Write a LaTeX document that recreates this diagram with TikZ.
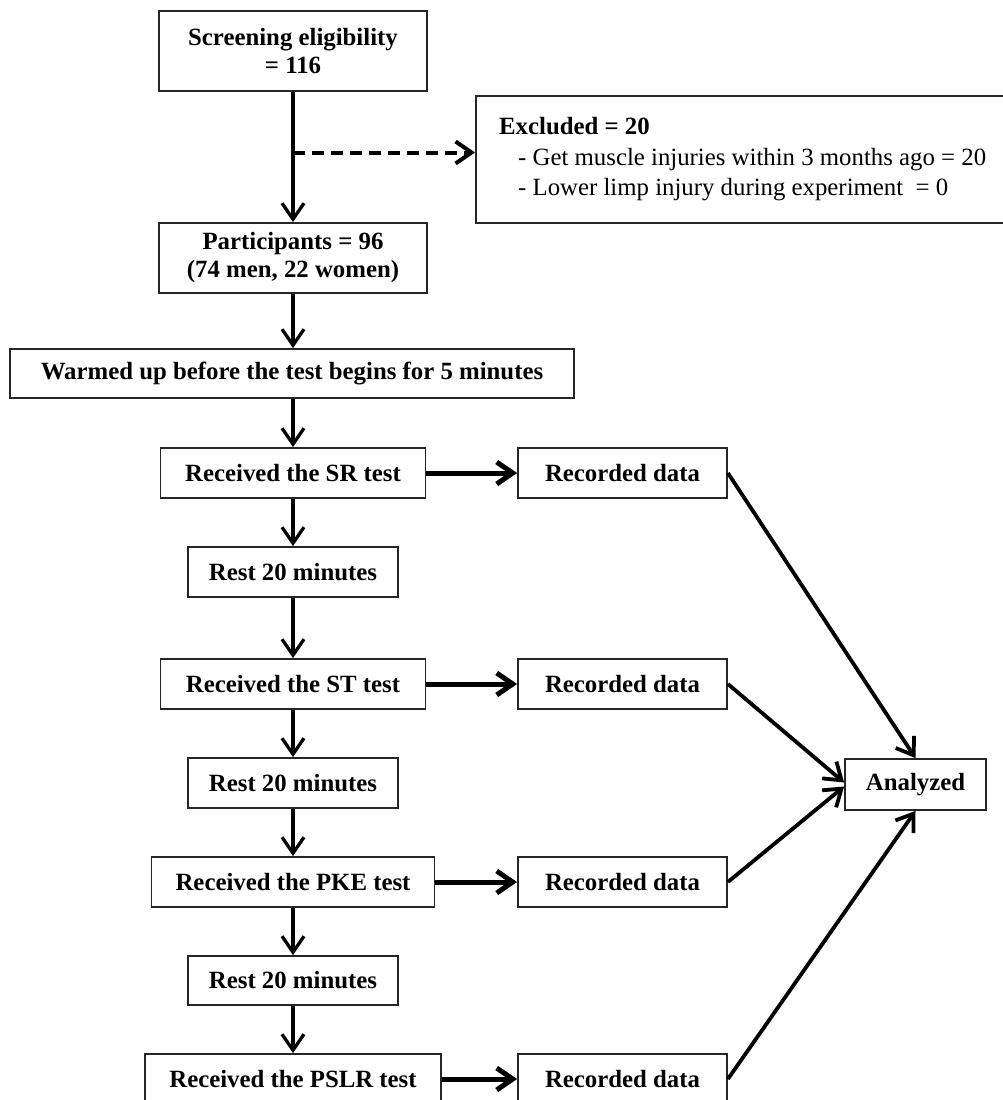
\documentclass[tikz,border=0pt]{standalone}
\usepackage{fontspec}
\setmainfont{Liberation Serif}
\usetikzlibrary{arrows.meta,calc}
\begin{document}
\begin{tikzpicture}[x=1pt,y=-1pt,
  box/.style 2 args={draw=black!85, line width=1.8pt, minimum width=#1, minimum height=#2,
    inner sep=0pt, align=center, text=black, font=\bfseries\fontsize{24.8}{28}\selectfont},
  tip/.style={-{Straight Barb[length=16pt,width=22pt]}},
  varrow/.style={tip, line width=3.3pt},
  harrow/.style={tip, line width=5pt},
  darrow/.style={tip, line width=3.8pt},
  dasharrow/.style={tip, line width=4pt, dash pattern=on 12pt off 7pt},
  exfont/.style={font=\fontsize{24.8}{30.5}\selectfont, align=left, inner sep=0pt, text=black}
]
\useasboundingbox (0,0) rectangle (1003,1100);
\fill[white] (0,0) rectangle (1003,1100);

% left column
\node[box={268}{80}] (scr) at (293,51) {Screening eligibility\\= 116};
\node[box={268}{70}] (part) at (293,258) {Participants = 96\\(74 men, 22 women)};
\node[box={564}{49}] (warm) at (292,373.5) {Warmed up before the test begins for 5 minutes};
\node[box={265}{50}] (sr) at (293,473) {Received the SR test};
\node[box={210}{50}] (rest1) at (293,572) {Rest 20 minutes};
\node[box={265}{50}] (st) at (293,684) {Received the ST test};
\node[box={210}{50}] (rest2) at (293,783) {Rest 20 minutes};
\node[box={283}{50}] (pke) at (293,882) {Received the PKE test};
\node[box={210}{49}] (rest3) at (293,980.5) {Rest 20 minutes};
\node[box={296}{50}] (pslr) at (293,1079) {Received the PSLR test};

% recorded data
\node[box={209}{50}] (rec1) at (622.5,473) {Recorded data};
\node[box={209}{50}] (rec2) at (622.5,684) {Recorded data};
\node[box={209}{50}] (rec3) at (622.5,882) {Recorded data};
\node[box={209}{50}] (rec4) at (622.5,1079) {Recorded data};

% analyzed
\node[box={141}{51}] (ana) at (915.5,784.5) {Analyzed};

% excluded
\node[box={534}{127}] (excl) at (743,159.5) {};
\node[exfont, anchor=west] (excltext) at (499,159.5)
  {\textbf{Excluded = 20}\\
   \hspace*{19pt}- Get muscle injuries within 3 months ago = 20\\
   \hspace*{19pt}- Lower limp injury during experiment\ \ = 0};

% vertical flow
\draw[varrow] (scr.south) -- (part.north);
\draw[varrow] (part.south) -- (part.south |- warm.north);
\draw[varrow] (part.south |- warm.south) -- (sr.north);
\draw[varrow] (sr.south) -- (rest1.north);
\draw[varrow] (rest1.south) -- (st.north);
\draw[varrow] (st.south) -- (rest2.north);
\draw[varrow] (rest2.south) -- (pke.north);
\draw[varrow] (pke.south) -- (rest3.north);
\draw[varrow] (rest3.south) -- (pslr.north);

% dashed exclusion arrow
\coordinate (dj) at (293,152.5);
\draw[dasharrow] (dj) -- (dj -| excl.west);

% horizontal arrows
\draw[harrow] (sr.east) -- (rec1.west);
\draw[harrow] (st.east) -- (rec2.west);
\draw[harrow] (pke.east) -- (rec3.west);
\draw[harrow] (pslr.east) -- (rec4.west);

% to analyzed
\draw[darrow] (rec1.east) -- (ana.north);
\draw[darrow] (rec2.east) -- ($(ana.west)+(0,-2)$);
\draw[darrow] (rec3.east) -- ($(ana.west)+(0,2)$);
\draw[darrow] (rec4.east) -- (ana.south);
\end{tikzpicture}
\end{document}
